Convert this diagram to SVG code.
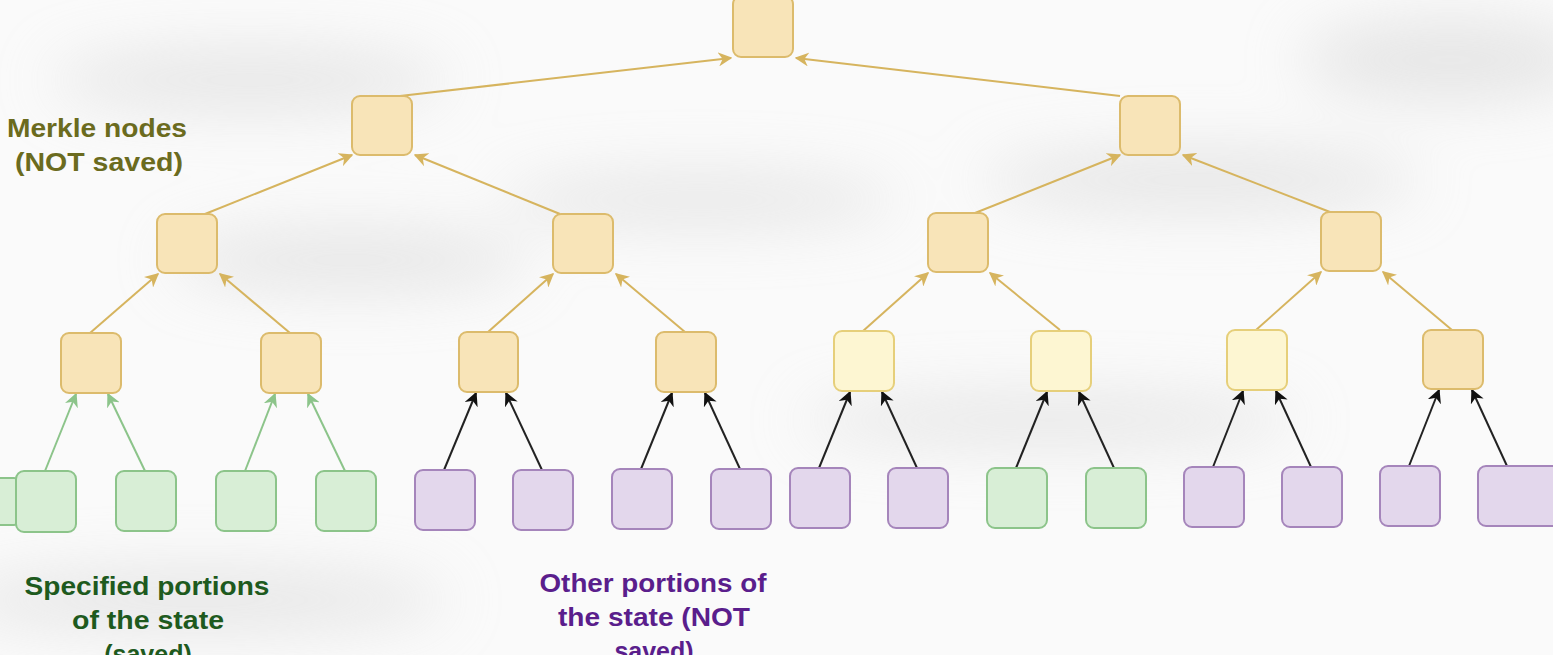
<svg xmlns="http://www.w3.org/2000/svg" width="1553" height="655" viewBox="0 0 1553 655">
<defs>
<filter id="blur" x="-50%" y="-50%" width="200%" height="200%"><feGaussianBlur stdDeviation="30"/></filter>
<marker id="ay" viewBox="0 0 10 10" refX="9" refY="5" markerWidth="7" markerHeight="7" orient="auto"><path d="M0,0 L10,5 L0,10 L3,5 z" fill="#d6b45e"/></marker>
<marker id="ag" viewBox="0 0 10 10" refX="9" refY="5" markerWidth="7" markerHeight="7" orient="auto"><path d="M0,0 L10,5 L0,10 L3,5 z" fill="#8cc48a"/></marker>
<marker id="ak" viewBox="0 0 10 10" refX="9" refY="5" markerWidth="7" markerHeight="7" orient="auto"><path d="M0,0 L10,5 L0,10 L3,5 z" fill="#111"/></marker>
<style>
.m{fill:#f8e4b8;stroke:#dcbb6c;stroke-width:2}
.ml{fill:#fdf6d2;stroke:#e6cf7a;stroke-width:2}
.g{fill:#d8eed6;stroke:#8cc48a;stroke-width:2}
.p{fill:#e3d7ec;stroke:#a585bb;stroke-width:2}
.cy{stroke:#d6b45e;stroke-width:2;fill:none;marker-end:url(#ay)}
.cg{stroke:#8cc48a;stroke-width:2;fill:none;marker-end:url(#ag)}
.ck{stroke:#222;stroke-width:2;fill:none;marker-end:url(#ak)}
text{font-family:"Liberation Sans",Arial,sans-serif;font-weight:bold;font-size:25px;text-anchor:middle}
</style>
</defs>
<rect width="1553" height="655" fill="#fafafa"/>
<g filter="url(#blur)" fill="#d8d8d8" opacity="0.6">
<ellipse cx="250" cy="80" rx="200" ry="30"/>
<ellipse cx="1200" cy="180" rx="220" ry="30"/>
<ellipse cx="350" cy="260" rx="180" ry="30"/>
<ellipse cx="1050" cy="420" rx="250" ry="25"/>
<ellipse cx="200" cy="600" rx="250" ry="30"/>
<ellipse cx="1450" cy="60" rx="150" ry="40"/>
<ellipse cx="700" cy="200" rx="200" ry="25"/>
</g>
<g id="connectors">
<path class="cy" d="M400,96 L731,58"/>
<path class="cy" d="M1120,96 L796,58"/>
<path class="cy" d="M205,214 L352,155"/>
<path class="cy" d="M560,214 L415,155"/>
<path class="cy" d="M975,213 L1120,155"/>
<path class="cy" d="M1330,212 L1183,155"/>
<path class="cy" d="M90,333 L158,274"/>
<path class="cy" d="M290,333 L220,274"/>
<path class="cy" d="M488,332 L553,274"/>
<path class="cy" d="M685,332 L616,274"/>
<path class="cy" d="M863,331 L928,273"/>
<path class="cy" d="M1060,330 L990,273"/>
<path class="cy" d="M1256,330 L1321,272"/>
<path class="cy" d="M1452,330 L1383,272"/>
<path class="cg" d="M45,471 L76,394"/>
<path class="cg" d="M145,471 L108,394"/>
<path class="cg" d="M245,471 L275,394"/>
<path class="cg" d="M345,471 L308,394"/>
<path class="ck" d="M444,470 L476,393"/>
<path class="ck" d="M542,470 L506,393"/>
<path class="ck" d="M641,469 L672,393"/>
<path class="ck" d="M740,469 L705,393"/>
<path class="ck" d="M819,468 L850,392"/>
<path class="ck" d="M917,468 L882,392"/>
<path class="ck" d="M1016,468 L1047,392"/>
<path class="ck" d="M1114,468 L1079,392"/>
<path class="ck" d="M1213,467 L1243,391"/>
<path class="ck" d="M1311,467 L1276,391"/>
<path class="ck" d="M1409,466 L1439,390"/>
<path class="ck" d="M1507,466 L1472,390"/>
</g>
<g id="root"><rect class="m" x="733" y="-4" width="60" height="61" rx="8"/></g>
<g id="l1a"><rect class="m" x="352" y="96" width="60" height="59" rx="8"/></g>
<g id="l1b"><rect class="m" x="1120" y="96" width="60" height="59" rx="8"/></g>
<g id="l2a"><rect class="m" x="157" y="214" width="60" height="59" rx="8"/></g>
<g id="l2b"><rect class="m" x="553" y="214" width="60" height="59" rx="8"/></g>
<g id="l2c"><rect class="m" x="928" y="213" width="60" height="59" rx="8"/></g>
<g id="l2d"><rect class="m" x="1321" y="212" width="60" height="59" rx="8"/></g>
<g id="l3a"><rect class="m" x="61" y="333" width="60" height="60" rx="8"/></g>
<g id="l3b"><rect class="m" x="261" y="333" width="60" height="60" rx="8"/></g>
<g id="l3c"><rect class="m" x="459" y="332" width="59" height="60" rx="8"/></g>
<g id="l3d"><rect class="m" x="656" y="332" width="60" height="60" rx="8"/></g>
<g id="l3e"><rect class="ml" x="834" y="331" width="60" height="60" rx="8"/></g>
<g id="l3f"><rect class="ml" x="1031" y="331" width="60" height="60" rx="8"/></g>
<g id="l3g"><rect class="ml" x="1227" y="330" width="60" height="60" rx="8"/></g>
<g id="l3h"><rect class="m" x="1423" y="330" width="60" height="59" rx="8"/></g>
<g id="leaf1"><rect class="g" x="-20" y="478" width="40" height="47" rx="6"/><rect class="g" x="16" y="471" width="60" height="61" rx="8"/></g>
<g id="leaf2"><rect class="g" x="116" y="471" width="60" height="60" rx="8"/></g>
<g id="leaf3"><rect class="g" x="216" y="471" width="60" height="60" rx="8"/></g>
<g id="leaf4"><rect class="g" x="316" y="471" width="60" height="60" rx="8"/></g>
<g id="leaf5"><rect class="p" x="415" y="470" width="60" height="60" rx="8"/></g>
<g id="leaf6"><rect class="p" x="513" y="470" width="60" height="60" rx="8"/></g>
<g id="leaf7"><rect class="p" x="612" y="469" width="60" height="60" rx="8"/></g>
<g id="leaf8"><rect class="p" x="711" y="469" width="60" height="60" rx="8"/></g>
<g id="leaf9"><rect class="p" x="790" y="468" width="60" height="60" rx="8"/></g>
<g id="leaf10"><rect class="p" x="888" y="468" width="60" height="60" rx="8"/></g>
<g id="leaf11"><rect class="g" x="987" y="468" width="60" height="60" rx="8"/></g>
<g id="leaf12"><rect class="g" x="1086" y="468" width="60" height="60" rx="8"/></g>
<g id="leaf13"><rect class="p" x="1184" y="467" width="60" height="60" rx="8"/></g>
<g id="leaf14"><rect class="p" x="1282" y="467" width="60" height="60" rx="8"/></g>
<g id="leaf15"><rect class="p" x="1380" y="466" width="60" height="60" rx="8"/></g>
<g id="leaf16"><rect class="p" x="1478" y="466" width="95" height="60" rx="8"/></g>
<g id="labels">
<text x="97" y="137" fill="#6b6b1e" textLength="180" lengthAdjust="spacingAndGlyphs">Merkle nodes</text>
<text x="99" y="171" fill="#6b6b1e" textLength="168" lengthAdjust="spacingAndGlyphs">(NOT saved)</text>
<text x="147" y="595" fill="#1e5a1e" textLength="245" lengthAdjust="spacingAndGlyphs">Specified portions</text>
<text x="148" y="629" fill="#1e5a1e" textLength="152" lengthAdjust="spacingAndGlyphs">of the state</text>
<text x="148" y="663" fill="#1e5a1e">(saved)</text>
<text x="653" y="592" fill="#5a1e8c" textLength="227" lengthAdjust="spacingAndGlyphs">Other portions of</text>
<text x="654" y="626" fill="#5a1e8c" textLength="192" lengthAdjust="spacingAndGlyphs">the state (NOT</text>
<text x="654" y="660" fill="#5a1e8c">saved)</text>
</g>
</svg>
